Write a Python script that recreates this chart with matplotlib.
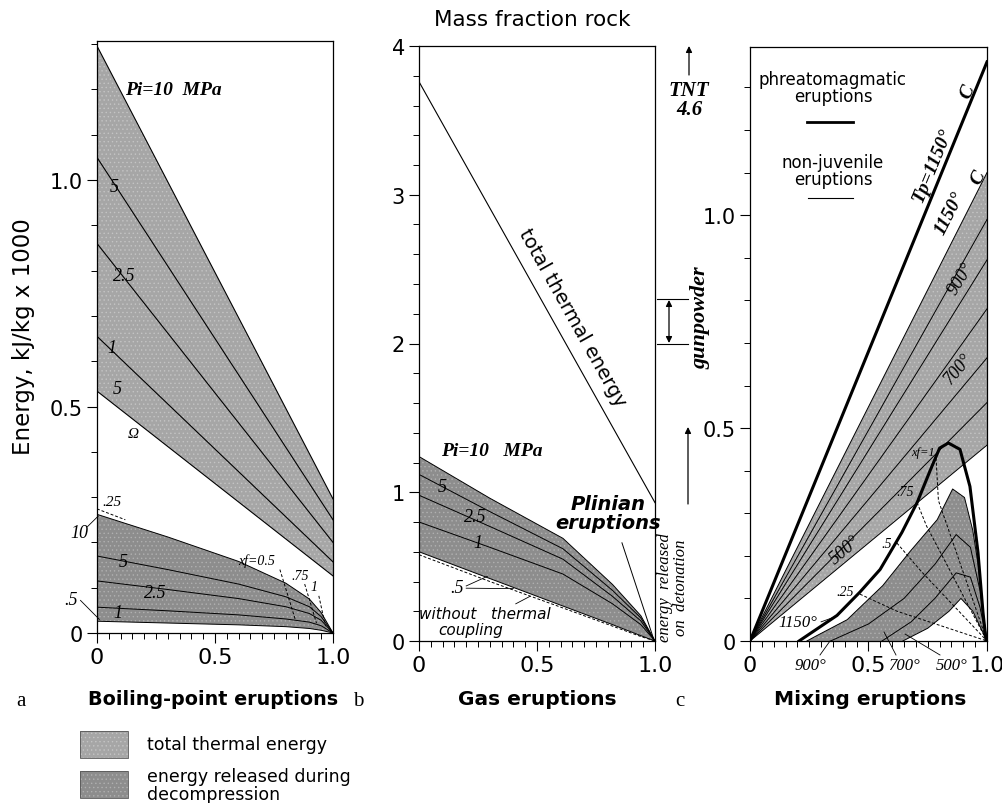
import numpy as np
import matplotlib
matplotlib.use("Agg")
import matplotlib.pyplot as plt
from matplotlib.lines import Line2D
from matplotlib.patches import Rectangle, FancyArrowPatch

W, H = 1003, 804
plt.rcParams["font.family"] = ["DejaVu Sans"]
plt.rcParams["hatch.linewidth"] = 0.5

SERIF = "Liberation Serif"
LIGHT = "#a6a6a6"      # total thermal energy
DARK = "#8d8d8d"       # energy released during decompression
STIP_L = "#c4c4c4"
STIP_D = "#b0b0b0"

# ---------------- panel a : boiling-point eruptions ----------------
a_total_x = [0.0, 1.0]
a_total_10 = [1.296, 0.296]
a_total_5 = [1.05, 0.25]
a_total_2_5 = [0.86, 0.20]
a_total_1 = [0.655, 0.157]
a_total_0_5 = [0.534, 0.126]

a_dec_x = [0.0, 0.3, 0.6, 0.8, 0.9, 0.95, 1.0]
a_dec_10 = [0.262, 0.212, 0.158, 0.110, 0.075, 0.045, 0.0]
a_dec_5 = [0.170, 0.140, 0.108, 0.080, 0.058, 0.036, 0.0]
a_dec_2_5 = [0.115, 0.096, 0.076, 0.058, 0.043, 0.028, 0.0]
a_dec_1 = [0.057, 0.049, 0.040, 0.031, 0.024, 0.016, 0.0]
a_dec_0_5 = [0.026, 0.022, 0.018, 0.014, 0.010, 0.006, 0.0]

a_xf_labels = ["xf=0.5", ".75", "1"]
a_xf_x = [[0.775, 0.84], [0.88, 0.93], [0.94, 0.968]]
a_xf_y = [[0.140, 0.030], [0.108, 0.022], [0.082, 0.015]]

# ---------------- panel b : gas eruptions ----------------
b_total_x = [0.0, 1.0]
b_total = [3.76, 0.93]

b_dec_x = [0.0, 0.3, 0.61, 0.82, 0.94, 1.0]
b_dec_10 = [1.24, 0.96, 0.69, 0.38, 0.17, 0.0]
b_dec_5 = [1.12, 0.87, 0.62, 0.34, 0.155, 0.0]
b_dec_2_5 = [0.98, 0.77, 0.55, 0.30, 0.135, 0.0]
b_dec_1 = [0.80, 0.63, 0.45, 0.25, 0.11, 0.0]
b_dec_0_5 = [0.60, 0.42, 0.235, 0.11, 0.036, 0.0]
b_no_coupling = [0.58, 0.400, 0.222, 0.100, 0.030, 0.0]

# ---------------- panel c : mixing eruptions ----------------
c_line_x = [0.0, 1.0]
c_phreato_total = [0.0, 1.36]
c_temps = [1150, 1000, 900, 800, 700, 600, 500]
c_total_end = [1.10, 0.99, 0.895, 0.78, 0.665, 0.56, 0.46]

c_phr_x = [0.207, 0.367, 0.464, 0.549, 0.641, 0.705, 0.76, 0.80, 0.837, 0.886, 0.928, 0.962, 0.983, 0.996]
c_phr_y = [0.0, 0.06, 0.115, 0.168, 0.255, 0.325, 0.40, 0.453, 0.465, 0.45, 0.363, 0.208, 0.068, 0.0]

c_1150_x = [0.24, 0.28, 0.41, 0.56, 0.675, 0.79, 0.855, 0.905, 0.94, 0.966, 0.98, 1.0]
c_1150_y = [0.0, 0.012, 0.05, 0.13, 0.21, 0.285, 0.357, 0.337, 0.26, 0.168, 0.075, 0.0]
c_900_x = [0.34, 0.5, 0.65, 0.78, 0.87, 0.93, 0.97, 1.0]
c_900_y = [0.0, 0.04, 0.10, 0.18, 0.25, 0.22, 0.12, 0.0]
c_700_x = [0.557, 0.68, 0.78, 0.87, 0.93, 0.97, 1.0]
c_700_y = [0.0, 0.045, 0.10, 0.16, 0.15, 0.08, 0.0]
c_500_x = [0.645, 0.75, 0.84, 0.89, 0.94, 1.0]
c_500_y = [0.0, 0.03, 0.07, 0.10, 0.07, 0.0]

c_xf_labels = [".25", ".5", ".75", "xf=1"]
c_xf_x = [[0.464, 0.62, 1.0], [0.62, 0.72, 1.0], [0.705, 0.745, 1.0], [0.785, 0.795, 1.0]]
c_xf_y = [[0.11, 0.07, 0.0], [0.23, 0.165, 0.0], [0.325, 0.27, 0.0], [0.43, 0.33, 0.0]]

x_ticks = [0.0, 0.5, 1.0]
x_ticklabels = ["0", "0.5", "1.0"]


def fx(x, y):
    """pixel (from top-left) -> figure fraction"""
    return (x / W, 1 - y / H)


def fig_line(x0, y0, x1, y1, lw=0.8, **kw):
    fig.add_artist(Line2D([x0 / W, x1 / W], [1 - y0 / H, 1 - y1 / H],
                          transform=fig.transFigure, color="black", lw=lw, **kw))


def fig_arrow(x0, y0, x1, y1, style="-|>"):
    fig.add_artist(FancyArrowPatch(fx(x0, y0), fx(x1, y1), transform=fig.transFigure,
                                   arrowstyle=style, mutation_scale=9, color="black",
                                   lw=0.9, shrinkA=0, shrinkB=0))


def fig_text(x, y, s, **kw):
    kw.setdefault("ha", "center")
    kw.setdefault("va", "center")
    fig.text(x / W, 1 - y / H, s, **kw)


def new_axes(left, top, right, bottom):
    return fig.add_axes([left / W, 1 - bottom / H, (right - left) / W, (bottom - top) / H])


def style(ax, ymax, yticks, ylabels, yminor):
    ax.set_xlim(0, 1)
    ax.set_ylim(0, ymax)
    ax.set_xticks(x_ticks)
    ax.set_xticklabels(x_ticklabels)
    ax.set_xticks(np.arange(0, 1.001, 0.05), minor=True)
    ax.set_yticks(yticks)
    ax.set_yticklabels(ylabels)
    ax.set_yticks(np.arange(0, ymax, yminor), minor=True)
    ax.tick_params(which="major", direction="out", length=7, width=0.8, labelsize=15, pad=3)
    ax.tick_params(axis="x", which="major", labelsize=16)
    ax.tick_params(which="minor", direction="out", length=4, width=0.7)
    for s in ax.spines.values():
        s.set_linewidth(0.9)


def serif(ax, x, y, s, size=13, **kw):
    kw.setdefault("ha", "center")
    kw.setdefault("va", "center")
    ax.text(x, y, s, family=SERIF, style="italic", fontsize=size, zorder=5, **kw)


fig = plt.figure(figsize=(W / 100, H / 100), dpi=100)
ax_a = new_axes(97, 42, 333, 634)
ax_b = new_axes(419, 47, 655, 642)
ax_c = new_axes(750, 48, 987, 642)

# ---------------- panel a ----------------
ax = ax_a
style(ax, 1.307, [0, 0.5, 1.0], ["0", "0.5", "1.0"], 0.1)
ax.fill_between(a_total_x, a_total_0_5, a_total_10, facecolor=LIGHT, edgecolor=STIP_L,
                hatch="....", lw=0, zorder=1)
for ys in [a_total_10, a_total_5, a_total_2_5, a_total_1, a_total_0_5]:
    ax.plot(a_total_x, ys, color="black", lw=0.8, zorder=2)
ax.fill_between(a_dec_x, a_dec_0_5, a_dec_10, facecolor=DARK, edgecolor=STIP_D,
                hatch="....", lw=0, zorder=1)
for ys in [a_dec_10, a_dec_5, a_dec_2_5, a_dec_1, a_dec_0_5]:
    ax.plot(a_dec_x, ys, color="black", lw=0.7, zorder=2)
for xs, ys in zip(a_xf_x, a_xf_y):
    ax.plot(xs, ys, color="black", lw=0.7, ls=(0, (3, 2)), zorder=3)
ax.plot([0.0, 0.12], [0.274, 0.250], color="black", lw=0.7, ls=(0, (3, 2)), zorder=3)

serif(ax, 0.12, 1.20, "Pi=10  MPa", size=14, ha="left", weight="bold")
serif(ax, 0.075, 0.985, "5")
serif(ax, 0.115, 0.79, "2.5")
serif(ax, 0.065, 0.63, "1")
serif(ax, 0.085, 0.54, "5")
serif(ax, 0.155, 0.44, "Ω", size=11)
serif(ax, 0.065, 0.29, ".25", size=11)
serif(ax, -0.075, 0.222, "10", clip_on=False)
serif(ax, 0.11, 0.157, "5")
serif(ax, 0.245, 0.09, "2.5")
serif(ax, 0.09, 0.046, "1")
serif(ax, -0.11, 0.075, ".5", clip_on=False)
ax.plot([-0.04, 0.005], [0.235, 0.258], color="black", lw=0.6, clip_on=False)
ax.plot([-0.07, 0.01], [0.072, 0.030], color="black", lw=0.6, clip_on=False)
for lab, xs, ys in zip(a_xf_labels, a_xf_x, a_xf_y):
    serif(ax, xs[0] - 0.02, ys[0] + 0.02, lab, size=10, ha="right" if lab.startswith("xf") else "center")

# ---------------- panel b ----------------
ax = ax_b
style(ax, 4.0, [0, 1, 2, 3, 4], ["0", "1", "2", "3", "4"], 0.2)
ax.plot(b_total_x, b_total, color="black", lw=0.8, zorder=2)
ax.fill_between(b_dec_x, b_dec_0_5, b_dec_10, facecolor=DARK, edgecolor=STIP_D,
                hatch="....", lw=0, zorder=1)
for ys in [b_dec_10, b_dec_5, b_dec_2_5, b_dec_1, b_dec_0_5]:
    ax.plot(b_dec_x, ys, color="black", lw=0.7, zorder=2)
ax.plot(b_dec_x, b_no_coupling, color="black", lw=0.7, ls=(0, (3, 2)), zorder=2)

ax.text(0.65, 2.18, "total thermal energy", rotation=-60.8, ha="center", va="center",
        fontsize=14, rotation_mode="anchor")
serif(ax, 0.31, 1.28, "Pi=10   MPa", size=14, weight="bold")
serif(ax, 0.10, 1.04, "5")
serif(ax, 0.24, 0.84, "2.5")
serif(ax, 0.25, 0.66, "1")
serif(ax, 0.16, 0.36, ".5")
ax.plot([0.20, 0.29], [0.37, 0.435], color="black", lw=0.6)
ax.plot([0.20, 0.40], [0.355, 0.352], color="black", lw=0.6)
ax.plot([0.41, 0.47], [0.25, 0.30], color="black", lw=0.6)
ax.text(0.28, 0.185, "without   thermal", ha="center", va="center", fontsize=11, style="italic")
ax.text(0.22, 0.075, "coupling", ha="center", va="center", fontsize=11, style="italic")
ax.text(0.80, 0.86, "Plinian\neruptions", ha="center", va="center", fontsize=14,
        weight="bold", style="italic", linespacing=0.95)
ax.plot([0.86, 0.995], [0.66, 0.01], color="black", lw=0.7)

# ---------------- panel c ----------------
ax = ax_c
style(ax, 1.395, [0, 0.5, 1.0], ["0", "0.5", "1.0"], 0.1)
ax.fill_between(c_line_x, [0.0, c_total_end[-1]], [0.0, c_total_end[0]], facecolor=LIGHT,
                edgecolor=STIP_L, hatch="....", lw=0, zorder=1)
for end in c_total_end:
    ax.plot(c_line_x, [0.0, end], color="black", lw=0.7, zorder=2)
ax.plot(c_line_x, c_phreato_total, color="black", lw=2.2, zorder=3)

ax.fill_between(c_1150_x, 0, c_1150_y, facecolor=DARK, edgecolor=STIP_D, hatch="....",
                lw=0, zorder=1)
ax.fill_between(c_500_x, 0, c_500_y, facecolor="white", lw=0, zorder=1.5)
for xs, ys in [(c_1150_x, c_1150_y), (c_900_x, c_900_y), (c_700_x, c_700_y), (c_500_x, c_500_y)]:
    ax.plot(xs, ys, color="black", lw=0.7, zorder=2)
for xs, ys in zip(c_xf_x, c_xf_y):
    ax.plot(xs, ys, color="black", lw=0.7, ls=(0, (3, 2)), zorder=2.5)
ax.plot(c_phr_x, c_phr_y, color="black", lw=2.2, zorder=3)

serif(ax, 0.77, 1.12, "Tp=1150°", size=14, weight="bold", rotation=67.5)
serif(ax, 0.92, 1.29, "C", size=14, weight="bold", rotation=67.5)
serif(ax, 0.845, 1.005, "1150°", size=14, weight="bold", rotation=63)
serif(ax, 0.965, 1.09, "C", size=14, weight="bold", rotation=63)
serif(ax, 0.89, 0.853, "900°", size=13, rotation=58)
serif(ax, 0.878, 0.64, "700°", size=13, rotation=50)
serif(ax, 0.40, 0.215, "500°", size=13, rotation=40)
serif(ax, 0.73, 0.445, "xf=1", size=9)
serif(ax, 0.655, 0.35, ".75", size=10)
serif(ax, 0.575, 0.23, ".5", size=10)
serif(ax, 0.40, 0.117, ".25", size=10)
serif(ax, 0.20, 0.045, "1150°", size=12)
ax.plot([0.30, 0.35], [0.045, 0.055], color="black", lw=0.6)

ax.text(0.35, 1.30, "phreatomagmatic\neruptions", ha="center", va="center",
        fontsize=12, linespacing=0.9)
ax.plot([0.24, 0.435], [1.22, 1.22], color="black", lw=2.0)
ax.text(0.35, 1.105, "non-juvenile\neruptions", ha="center", va="center",
        fontsize=12, linespacing=0.9)
ax.plot([0.245, 0.435], [1.04, 1.04], color="black", lw=0.8)

# labels below the c axis
fig_text(810, 666, "900°", family=SERIF, style="italic", fontsize=12)
fig_text(904, 666, "700°", family=SERIF, style="italic", fontsize=12)
fig_text(952, 666, "500°", family=SERIF, style="italic", fontsize=12)
fig_line(820, 656, 830, 642, lw=0.6)
fig_line(896, 656, 884, 633, lw=0.6)
fig_line(940, 656, 905, 635, lw=0.6)

# ---------------- detonation scale between b and c ----------------
fig_arrow(689, 76, 689, 47)
fig_text(689, 91, "TNT", family=SERIF, style="italic", weight="bold", fontsize=15)
fig_text(689, 110, "4.6", family=SERIF, style="italic", weight="bold", fontsize=15)
fig_line(657, 300, 688, 300)
fig_line(657, 345, 688, 345)
fig_arrow(669, 344, 669, 301, style="<|-|>")
fig_text(700, 318, "gunpowder", family=SERIF, style="italic", weight="bold", fontsize=16,
         rotation=90)
fig_arrow(688, 505, 688, 428)
fig_text(673, 588, "energy  released\non  detonation", family=SERIF, style="italic",
         fontsize=12, rotation=90, linespacing=0.95)

# ---------------- figure texts ----------------
fig_text(532, 20, "Mass fraction rock", fontsize=15.5)
fig_text(24, 337, "Energy, kJ/kg x 1000", fontsize=16.5, rotation=90)
fig_text(21, 702, "a", family=SERIF, fontsize=15)
fig_text(213, 700, "Boiling-point eruptions", fontsize=13.8, weight="bold")
fig_text(358, 702, "b", family=SERIF, fontsize=15)
fig_text(537, 700, "Gas eruptions", fontsize=14.5, weight="bold")
fig_text(680, 702, "c", family=SERIF, fontsize=15)
fig_text(870, 700, "Mixing eruptions", fontsize=14.5, weight="bold")

# legend
for (top, color, stip) in [(732, LIGHT, STIP_L), (772, DARK, STIP_D)]:
    fig.add_artist(Rectangle(fx(80, top + 27), 48 / W, 27 / H, transform=fig.transFigure,
                             facecolor=color, edgecolor=stip, hatch="....", lw=0))
    fig.add_artist(Rectangle(fx(80, top + 27), 48 / W, 27 / H, transform=fig.transFigure,
                             facecolor="none", edgecolor="#555555", lw=0.6))
fig_text(147, 745, "total thermal energy", fontsize=12.5, ha="left")
fig_text(147, 786, "energy released during\ndecompression", fontsize=12.5, ha="left",
         linespacing=0.95)

fig.savefig("out.png", dpi=100)
